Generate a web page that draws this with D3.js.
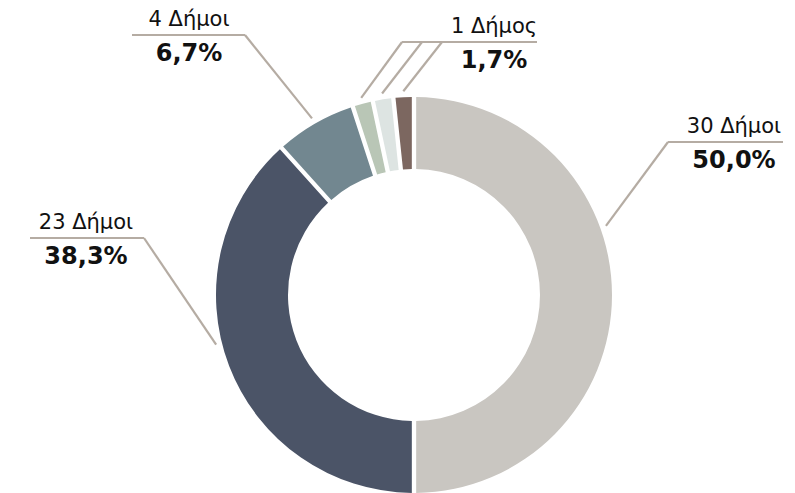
<!DOCTYPE html>
<html>
<head>
<meta charset="utf-8">
<script src="https://cdn.jsdelivr.net/npm/d3@7"></script>
<style>
  body { margin: 0; background: #fff; }
  svg { display: block; font-family: "DejaVu Sans", sans-serif; }
</style>
</head>
<body>
<svg id="chart" width="795" height="493"></svg>
<script>
// slices, clockwise from 12 o'clock
const groups = ['30 Δήμοι', '23 Δήμοι', '4 Δήμοι', '1 Δήμος a', '1 Δήμος b', '1 Δήμος c'];
const counts = [30, 23, 4, 1, 1, 1];
const colors = ['#c9c6c1', '#4b5467', '#728790', '#b9c6b6', '#dde4e2', '#7c6760'];

// labels: title, percentage, which slices they point to
const labelTitles = ['30 Δήμοι', '23 Δήμοι', '4 Δήμοι', '1 Δήμος'];
const labelPercents = ['50,0%', '38,3%', '6,7%', '1,7%'];
const labelSlices = [[0], [1], [2], [3, 4, 5]];

const svg = d3.select('#chart');
const cx = 414, cy = 295;
const outerR = 198, innerR = 126;

const pie = d3.pie().sort(null).value(d => d);
const arcs = pie(counts);

const arc = d3.arc()
    .innerRadius(innerR)
    .outerRadius(outerR)
    .padAngle(0.022)
    .padRadius(outerR);

const g = svg.append('g').attr('transform', `translate(${cx},${cy})`);

g.selectAll('path')
    .data(arcs)
    .join('path')
    .attr('d', arc)
    .attr('fill', (d, i) => colors[i]);

// layout for each label: elbow point, line end, text centre, and where on the slice the leader lands
const labelLayout = [
    { elbow: [668, 142], lineEnd: 783, textX: 734, t: [0.39] },
    { elbow: [144, 238], lineEnd: 30, textX: 86, t: [0.55] },
    { elbow: [245, 35], lineEnd: 132, textX: 189, t: [0.5] },
    { elbow: [402, 42], lineEnd: 537, textX: 494, t: [0.5, 0.5, 0.5], elbowStep: 20 }
];

function pointOnSlice(a, t, r) {
    const ang = a.startAngle + (a.endAngle - a.startAngle) * t;
    return [cx + r * Math.sin(ang), cy - r * Math.cos(ang)];
}

const leaderColor = '#b5aca3';

labelTitles.forEach((title, i) => {
    const L = labelLayout[i];
    const [ex, ey] = L.elbow;

    // horizontal rule
    svg.append('line')
        .attr('x1', ex).attr('y1', ey)
        .attr('x2', L.lineEnd).attr('y2', ey)
        .attr('stroke', leaderColor)
        .attr('stroke-width', 2.2);

    // diagonal leaders down to slices
    labelSlices[i].forEach((s, k) => {
        const p = pointOnSlice(arcs[s], L.t[k], outerR + 6);
        const sx = ex + (L.elbowStep || 0) * k;
        svg.append('line')
            .attr('x1', sx).attr('y1', ey)
            .attr('x2', p[0]).attr('y2', p[1])
            .attr('stroke', leaderColor)
            .attr('stroke-width', 2.2);
    });

    svg.append('text')
        .attr('x', L.textX)
        .attr('y', ey - 9)
        .attr('text-anchor', 'middle')
        .attr('font-size', 21)
        .attr('fill', '#111')
        .text(title);

    svg.append('text')
        .attr('x', L.textX)
        .attr('y', ey + 26)
        .attr('text-anchor', 'middle')
        .attr('font-size', 24)
        .attr('font-weight', 'bold')
        .attr('fill', '#111')
        .text(labelPercents[i]);
});
</script>
</body>
</html>
